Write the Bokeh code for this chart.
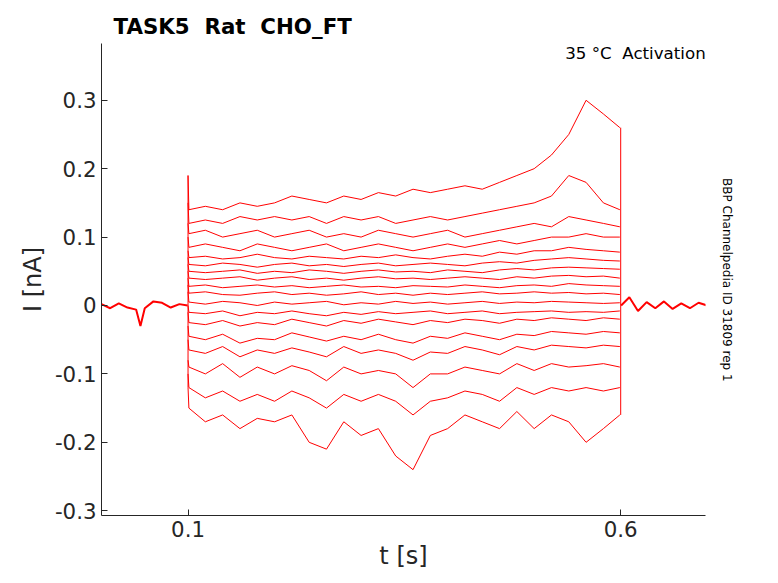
import numpy as np
from bokeh.plotting import figure
from bokeh.models import Label, FixedTicker, Range1d, LinearAxis
from bokeh.embed import file_html
from bokeh.resources import INLINE

t_pre = [0.0, 0.01, 0.02, 0.03, 0.04, 0.045, 0.05, 0.06, 0.07, 0.08, 0.09, 0.0995]
i_pre = [0.002, -0.004, 0.003, -0.003, -0.006, -0.03, -0.004, 0.006, 0.004, -0.003, 0.002, 0.0]
t_post = [0.6005, 0.61, 0.62, 0.63, 0.64, 0.65, 0.66, 0.67, 0.68, 0.69, 0.7]
i_post = [0.0, 0.012, -0.008, 0.005, -0.004, 0.006, -0.005, 0.003, -0.004, 0.004, 0.0]

t_step = [0.1, 0.101, 0.12, 0.14, 0.16, 0.18, 0.2, 0.22, 0.24, 0.26, 0.28, 0.3, 0.32, 0.34, 0.36, 0.38, 0.4,
          0.42, 0.44, 0.46, 0.48, 0.5, 0.52, 0.54, 0.56, 0.58, 0.599]
traces = [
    [0.19, 0.14, 0.145, 0.14, 0.15, 0.145, 0.15, 0.16, 0.155, 0.15, 0.16, 0.155, 0.165, 0.16, 0.17, 0.165, 0.17, 0.175, 0.17, 0.18, 0.19, 0.2, 0.22, 0.25, 0.3, 0.28, 0.26],
    [0.15, 0.12, 0.125, 0.12, 0.13, 0.125, 0.13, 0.125, 0.13, 0.12, 0.13, 0.125, 0.13, 0.12, 0.125, 0.13, 0.125, 0.13, 0.135, 0.14, 0.145, 0.15, 0.16, 0.19, 0.18, 0.15, 0.14],
    [0.12, 0.105, 0.11, 0.1, 0.105, 0.11, 0.1, 0.105, 0.11, 0.1, 0.105, 0.1, 0.11, 0.105, 0.1, 0.105, 0.11, 0.1, 0.105, 0.11, 0.115, 0.12, 0.115, 0.13, 0.125, 0.12, 0.115],
    [0.1, 0.085, 0.09, 0.085, 0.08, 0.09, 0.085, 0.08, 0.085, 0.09, 0.08, 0.085, 0.09, 0.085, 0.08, 0.085, 0.09, 0.085, 0.09, 0.095, 0.09, 0.095, 0.1, 0.1, 0.105, 0.1, 0.1],
    [0.08, 0.07, 0.072, 0.068, 0.07, 0.075, 0.07, 0.068, 0.072, 0.07, 0.068, 0.072, 0.07, 0.074, 0.07, 0.068, 0.072, 0.075, 0.072, 0.078, 0.075, 0.08, 0.08, 0.085, 0.082, 0.08, 0.078],
    [0.07, 0.06, 0.058, 0.062, 0.06, 0.056, 0.06, 0.062, 0.058, 0.06, 0.057, 0.06, 0.062, 0.058, 0.06, 0.062, 0.06, 0.058, 0.062, 0.064, 0.062, 0.066, 0.068, 0.07, 0.068, 0.066, 0.065],
    [0.06, 0.05, 0.048, 0.05, 0.052, 0.047, 0.05, 0.048, 0.052, 0.05, 0.047, 0.05, 0.052, 0.049, 0.05, 0.048, 0.052, 0.05, 0.048, 0.052, 0.054, 0.052, 0.055, 0.056, 0.055, 0.054, 0.053],
    [0.05, 0.04, 0.038, 0.04, 0.042, 0.037, 0.04, 0.042, 0.038, 0.04, 0.037, 0.04, 0.042, 0.039, 0.04, 0.038, 0.04, 0.042, 0.04, 0.038, 0.042, 0.04, 0.043, 0.044, 0.042, 0.043, 0.04],
    [0.04, 0.028, 0.03, 0.026, 0.028, 0.03, 0.027, 0.029, 0.026, 0.028, 0.03, 0.027, 0.028, 0.026, 0.029, 0.028, 0.027, 0.03, 0.028, 0.026, 0.029, 0.03, 0.028, 0.032, 0.03, 0.029, 0.028],
    [0.03, 0.018, 0.02, 0.016, 0.015, 0.018, 0.02, 0.016, 0.018, 0.015, 0.017, 0.02, 0.016, 0.018, 0.015, 0.018, 0.016, 0.018, 0.02, 0.017, 0.018, 0.02, 0.018, 0.019, 0.017, 0.018, 0.016],
    [0.02, 0.005, 0.002, 0.006, 0.004, 0.0, 0.005, 0.002, 0.004, 0.006, 0.001, 0.004, 0.002, 0.006, 0.003, 0.005, 0.002, 0.004, 0.006, 0.003, 0.005, 0.004, 0.006, 0.005, 0.004, 0.003, 0.004],
    [0.0, -0.01, -0.012, -0.008, -0.015, -0.01, -0.012, -0.008, -0.012, -0.015, -0.01, -0.013, -0.009, -0.012, -0.01, -0.008, -0.012, -0.01, -0.008, -0.012, -0.01, -0.009, -0.008, -0.01, -0.009, -0.01, -0.008],
    [-0.01, -0.025, -0.028, -0.022, -0.03, -0.025, -0.028, -0.02, -0.025, -0.03, -0.022, -0.026, -0.02, -0.024, -0.028, -0.022, -0.025, -0.02, -0.022, -0.026, -0.02, -0.022, -0.018, -0.02, -0.022, -0.018, -0.02],
    [-0.03, -0.045, -0.05, -0.042, -0.055, -0.048, -0.05, -0.04, -0.046, -0.052, -0.045, -0.05, -0.042, -0.05, -0.055, -0.045, -0.048, -0.04, -0.045, -0.05, -0.042, -0.044, -0.038, -0.04, -0.042, -0.038, -0.04],
    [-0.05, -0.065, -0.07, -0.06, -0.075, -0.065, -0.07, -0.062, -0.068, -0.075, -0.06, -0.07, -0.065, -0.07, -0.08, -0.068, -0.07, -0.06, -0.065, -0.072, -0.06, -0.065, -0.058, -0.06, -0.062, -0.058, -0.06],
    [-0.08, -0.09, -0.1, -0.085, -0.105, -0.09, -0.1, -0.088, -0.095, -0.11, -0.09, -0.1, -0.095, -0.1, -0.12, -0.1, -0.1, -0.09, -0.095, -0.1, -0.085, -0.095, -0.085, -0.09, -0.088, -0.085, -0.09],
    [-0.1, -0.12, -0.135, -0.125, -0.14, -0.13, -0.14, -0.125, -0.135, -0.15, -0.13, -0.14, -0.13, -0.14, -0.16, -0.14, -0.135, -0.125, -0.13, -0.14, -0.12, -0.13, -0.12, -0.125, -0.12, -0.125, -0.12],
    [-0.12, -0.15, -0.17, -0.16, -0.18, -0.165, -0.17, -0.16, -0.2, -0.21, -0.17, -0.19, -0.18, -0.22, -0.24, -0.19, -0.18, -0.16, -0.17, -0.18, -0.155, -0.18, -0.16, -0.17, -0.2, -0.18, -0.16],
]
side_label = "BBP Channelpedia ID 31809 rep 1"
side_label_at = 0.0375

RED = "#ff0000"
p = figure(width=760, height=572, output_backend="svg", toolbar_location=None,
           x_range=Range1d(0.0, 0.698), y_range=Range1d(-0.307, 0.383),
           min_border_left=101, min_border_right=55, min_border_top=43, min_border_bottom=45)
p.line(t_pre, i_pre, color=RED, line_width=2)
p.line(t_post, i_post, color=RED, line_width=2)
for tr in traces:
    p.line(t_step, tr, color=RED, line_width=1)
p.segment(x0=[0.1], y0=[min(tr[0] for tr in traces)], x1=[0.1], y1=[max(tr[0] for tr in traces)], color=RED)
p.segment(x0=[0.6], y0=[-0.16], x1=[0.6], y1=[0.26], color=RED)

p.grid.visible = False
p.outline_line_color = None
p.xaxis.ticker = FixedTicker(ticks=[0.1, 0.6])
p.yaxis.ticker = FixedTicker(ticks=[-0.3, -0.2, -0.1, 0, 0.1, 0.2, 0.3])
p.yaxis.major_label_overrides = {0: "0", 0.3: "0.3", 0.2: "0.2", 0.1: "0.1", -0.1: "-0.1", -0.2: "-0.2", -0.3: "-0.3"}
p.xaxis.major_label_overrides = {0.1: "0.1", 0.6: "0.6"}
for ax in (p.xaxis, p.yaxis):
    ax.axis_line_color = "#262626"
    ax.major_tick_line_color = "#262626"
    ax.minor_tick_line_color = None
    ax.major_tick_in = 6
    ax.major_tick_out = 0
    ax.major_label_text_font = "DejaVu Sans"
    ax.major_label_text_font_size = "16pt"
    ax.major_label_text_color = "#262626"
    ax.axis_label_text_font = "DejaVu Sans"
    ax.axis_label_text_font_size = "18pt"
    ax.axis_label_text_font_style = "normal"
    ax.axis_label_text_color = "#262626"
p.xaxis.axis_label = "t [s]"
p.yaxis.axis_label = "I [nA]"
p.xaxis.axis_label_standoff = 2

right = LinearAxis(axis_line_color=None, major_tick_line_color=None, minor_tick_line_color=None,
                   ticker=FixedTicker(ticks=[side_label_at]),
                   major_label_overrides={side_label_at: side_label},
                   major_label_orientation="vertical", major_label_standoff=8,
                   major_label_text_font="DejaVu Sans", major_label_text_font_size="9pt",
                   major_label_text_color="black")
p.add_layout(right, "right")

p.title.text = "TASK5\u00a0\u00a0Rat\u00a0\u00a0CHO_FT"
p.title.text_font = "DejaVu Sans"
p.title.text_font_size = "16pt"
p.title.text_font_style = "bold"
p.title.text_color = "black"
p.title.offset = 12

p.add_layout(Label(x=0.6, y=0.368, text="35 °C\u00a0\u00a0Activation", text_font="DejaVu Sans",
                   text_font_size="12.5pt", text_align="right", text_baseline="middle", x_offset=85,
                   text_color="black"))

open("out.html", "w").write(file_html(p, INLINE))
